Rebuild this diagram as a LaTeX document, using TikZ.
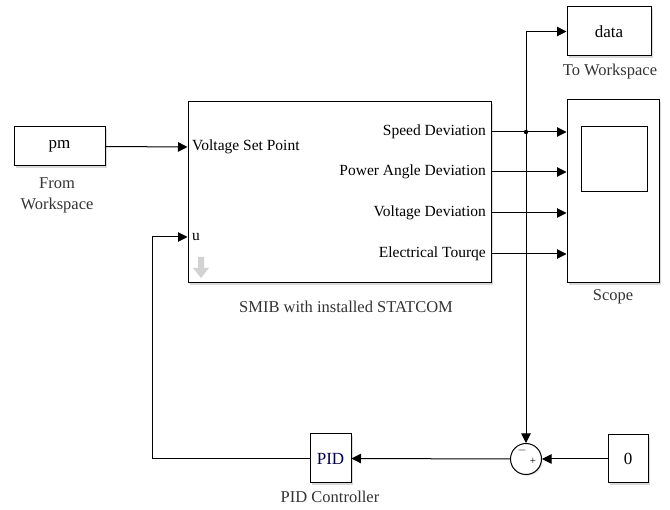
\documentclass[tikz,border=0pt]{standalone}
\usepackage{fontspec}
\setmainfont{Liberation Serif}
\usetikzlibrary{arrows.meta,shadows}
\begin{document}
\begin{tikzpicture}[x=1pt,y=-1pt,
  blk/.style={draw,line width=1pt,fill=white,inner sep=0pt,
    drop shadow={shadow xshift=1.5pt,shadow yshift=-1.8pt,opacity=0.3,fill=gray}},
  wire/.style={line width=1pt},
  arr/.style={wire,-{Triangle[length=9.5pt,width=9.5pt]}},
  lbl/.style={font=\fontsize{16.5}{21}\selectfont,text=black!80},
  port/.style={font=\fontsize{15.5}{16}\selectfont,inner sep=0pt},
  txt/.style={font=\fontsize{17}{17}\selectfont}]
\useasboundingbox (0,0) rectangle (670,510);
% blocks
\node[blk,minimum width=91pt,minimum height=39pt,txt] (pm) at (59.5,146.5) {pm};
\node[lbl,align=center] (pmlbl) at (57,195) {From\\Workspace};
\node[blk,minimum width=303pt,minimum height=181pt] (smib) at (339.5,192.5) {};
\node[lbl] (smiblbl) at (346,307) {SMIB with installed STATCOM};
\node[blk,minimum width=92pt,minimum height=183pt] (scope) at (613,191.5) {};
\node[draw,line width=1pt,minimum width=66pt,minimum height=65pt] (screen) at (614,159.5) {};
\node[lbl] (scopelbl) at (613,297) {Scope};
\node[blk,minimum width=84pt,minimum height=49pt,txt] (data) at (609,31.5) {data};
\node[lbl] (datalbl) at (610,72) {To Workspace};
\node[blk,minimum width=40pt,minimum height=48pt,txt] (zero) at (628,459) {0};
\node[blk,minimum width=41pt,minimum height=49pt,txt,text=blue!30!black] (pid) at (330.5,458.5) {PID};
\node[lbl] (pidlbl) at (330,497) {PID Controller};
\node[draw,line width=1pt,circle,minimum size=31pt,inner sep=0pt,fill=white,
  drop shadow={shadow xshift=1pt,shadow yshift=-1.2pt,opacity=0.3,fill=gray}] (sum) at (526,459) {};
\node[font=\fontsize{13}{13}\selectfont,inner sep=0pt] (minus) at (522,451) {$-$};
\node[font=\fontsize{11}{11}\selectfont,inner sep=0pt] (plus) at (533,461) {+};
% port labels
\node[port,anchor=west] (vsp) at (192,147) {Voltage Set Point};
\node[port,anchor=west] (uport) at (192,237) {u};
\node[port,anchor=east] (p1) at (486,132) {Speed Deviation};
\node[port,anchor=east] (p2) at (486,172) {Power Angle Deviation};
\node[port,anchor=east] (p3) at (486,213) {Voltage Deviation};
\node[port,anchor=east] (p4) at (486,254) {Electrical Tourqe};
% gray arrow inside SMIB
\fill[gray!35] (198,257) -- (204,257) -- (204,268) -- (209,268) -- (201,278) -- (193,268) -- (198,268) -- cycle;
% port coordinates
\coordinate (vin) at (smib.west |- vsp.west);
\coordinate (uin) at (smib.west |- uport.west);
\coordinate (o1) at (smib.east |- p1.east);
\coordinate (o2) at (smib.east |- p2.east);
\coordinate (o3) at (smib.east |- p3.east);
\coordinate (o4) at (smib.east |- p4.east);
\coordinate (br) at (sum.north |- o1);
% connectors
\draw[arr] (pm.east) -- (vin);
\draw[arr] (o1) -- (scope.west |- o1);
\draw[arr] (o2) -- (scope.west |- o2);
\draw[arr] (o3) -- (scope.west |- o3);
\draw[arr] (o4) -- (scope.west |- o4);
\fill (br) circle (2.2pt);
\draw[arr] (br) |- (data.west);
\draw[arr] (br) -- (sum.north);
\draw[arr] (zero.west) -- (sum.east);
\draw[arr] (sum.west) -- (pid.east);
\draw[arr] (pid.west) -- ++(-157,0) |- (uin);
\end{tikzpicture}
\end{document}
